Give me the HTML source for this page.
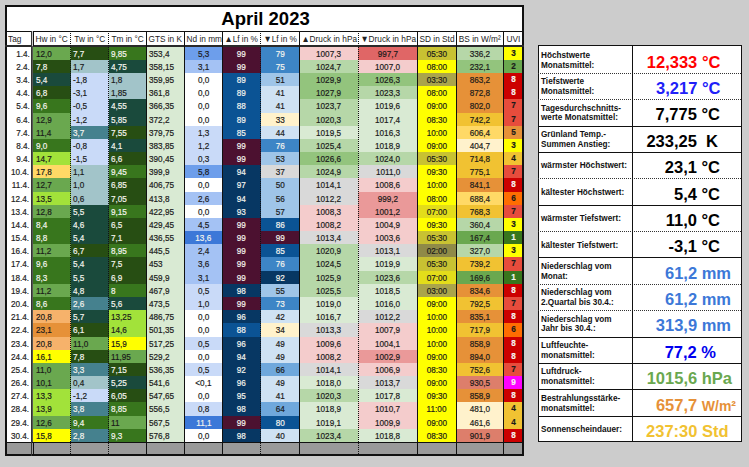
<!DOCTYPE html><html><head><meta charset="utf-8"><style>
*{margin:0;padding:0;box-sizing:border-box}
html,body{width:749px;height:467px;overflow:hidden;background:#cccccc;font-family:"Liberation Sans",sans-serif}
.c{-webkit-text-stroke:0.2px currentColor;position:absolute;font-size:9.5px;line-height:14.2px;white-space:nowrap;overflow:hidden}
.c span,.h span{display:inline-block;transform:scaleX(0.86)}
.h span{transform:scaleX(0.92)}
.L span{transform-origin:0 50%}.R span{transform-origin:100% 50%}
.l{position:absolute;background:#111}
.h{position:absolute;font-size:9px;line-height:17.3px;white-space:nowrap;background:#fff;color:#222;overflow:hidden}
.p{position:absolute;white-space:nowrap;font-weight:bold}
</style></head><body>

<div style="position:absolute;left:5px;top:5px;width:519px;height:451px;background:#fff"></div>
<div class="p" style="left:6px;top:5.4px;width:519px;height:26px;text-align:center;font-size:18.5px;line-height:28px;color:#000">April 2023</div>
<div class="h L" style="left:5px;top:31px;width:27px;height:14px;text-align:left;padding-left:3px;"><span>Tag</span></div>
<div class="h" style="left:32px;top:31px;width:38.5px;height:14px;text-align:center;"><span>Hw in °C</span></div>
<div class="h" style="left:70.5px;top:31px;width:38.099999999999994px;height:14px;text-align:center;"><span>Tw in °C</span></div>
<div class="h" style="left:108.6px;top:31px;width:38.099999999999994px;height:14px;text-align:center;"><span>Tm in °C</span></div>
<div class="h" style="left:146.7px;top:31px;width:37.900000000000006px;height:14px;text-align:center;"><span>GTS in K</span></div>
<div class="h" style="left:184.6px;top:31px;width:38.0px;height:14px;text-align:center;"><span>Nd in mm</span></div>
<div class="h" style="left:222.6px;top:31px;width:38.099999999999994px;height:14px;text-align:center;"><span>▲Lf in %</span></div>
<div class="h" style="left:260.7px;top:31px;width:38.30000000000001px;height:14px;text-align:center;"><span>▼Lf in %</span></div>
<div class="h" style="left:299px;top:31px;width:59.19999999999999px;height:14px;text-align:center;"><span>▲Druck in hPa</span></div>
<div class="h" style="left:358.2px;top:31px;width:59.10000000000002px;height:14px;text-align:center;"><span>▼Druck in hPa</span></div>
<div class="h" style="left:417.3px;top:31px;width:39.19999999999999px;height:14px;text-align:center;"><span>SD in Std</span></div>
<div class="h" style="left:456.5px;top:31px;width:47.19999999999999px;height:14px;text-align:center;"><span>BS in W/m²</span></div>
<div class="h" style="left:503.7px;top:31px;width:19.80000000000001px;height:14px;text-align:center;"><span>UVI</span></div>
<div class="c R" style="left:5px;top:46.60px;width:27.00px;height:13.48px;background:#ffffff;color:#222;text-align:right;padding-right:2.5px;"><span>1.4.</span></div>
<div class="c L" style="left:32px;top:46.60px;width:38.50px;height:13.48px;background:#6aa84f;color:#1a1a1a;text-align:left;padding-left:3.5px;"><span>12,0</span></div>
<div class="c L" style="left:70.5px;top:46.60px;width:38.10px;height:13.48px;background:#274e13;color:#f4f4ee;text-align:left;padding-left:2px;"><span>7,7</span></div>
<div class="c L" style="left:108.6px;top:46.60px;width:38.10px;height:13.48px;background:#38761d;color:#f4f4ee;text-align:left;padding-left:2px;"><span>9,85</span></div>
<div class="c L" style="left:146.7px;top:46.60px;width:37.90px;height:13.48px;background:#d9ead3;color:#1a1a1a;text-align:left;padding-left:2px;"><span>353,4</span></div>
<div class="c" style="left:184.6px;top:46.60px;width:38.00px;height:13.48px;background:#6d9eeb;color:#1a1a1a;text-align:center;"><span>5,3</span></div>
<div class="c" style="left:222.6px;top:46.60px;width:38.10px;height:13.48px;background:#4c1130;color:#f4f4ee;text-align:center;"><span>99</span></div>
<div class="c" style="left:260.7px;top:46.60px;width:38.30px;height:13.48px;background:#3d85c6;color:#f4f4ee;text-align:center;"><span>79</span></div>
<div class="c" style="left:299px;top:46.60px;width:59.20px;height:13.48px;background:#f4cccc;color:#1a1a1a;text-align:center;"><span>1007,3</span></div>
<div class="c" style="left:358.2px;top:46.60px;width:59.10px;height:13.48px;background:#e06666;color:#1a1a1a;text-align:center;"><span>997,7</span></div>
<div class="c" style="left:417.3px;top:46.60px;width:39.20px;height:13.48px;background:#c8c232;color:#1a1a1a;text-align:center;"><span>05:30</span></div>
<div class="c" style="left:456.5px;top:46.60px;width:47.20px;height:13.48px;background:#b6d7a8;color:#1a1a1a;text-align:center;"><span>336,2</span></div>
<div class="c" style="left:503.7px;top:46.60px;width:19.80px;height:13.48px;background:#ffff00;color:#1a1a1a;text-align:center;font-weight:bold;line-height:12.2px;"><span>3</span></div>
<div class="c R" style="left:5px;top:59.78px;width:27.00px;height:13.48px;background:#ffffff;color:#222;text-align:right;padding-right:2.5px;"><span>2.4.</span></div>
<div class="c L" style="left:32px;top:59.78px;width:38.50px;height:13.48px;background:#274e13;color:#f4f4ee;text-align:left;padding-left:3.5px;"><span>7,8</span></div>
<div class="c L" style="left:70.5px;top:59.78px;width:38.10px;height:13.48px;background:#a2c4c9;color:#1a1a1a;text-align:left;padding-left:2px;"><span>1,7</span></div>
<div class="c L" style="left:108.6px;top:59.78px;width:38.10px;height:13.48px;background:#1a4a3c;color:#f4f4ee;text-align:left;padding-left:2px;"><span>4,75</span></div>
<div class="c L" style="left:146.7px;top:59.78px;width:37.90px;height:13.48px;background:#d9ead3;color:#1a1a1a;text-align:left;padding-left:2px;"><span>358,15</span></div>
<div class="c" style="left:184.6px;top:59.78px;width:38.00px;height:13.48px;background:#a4c2f4;color:#1a1a1a;text-align:center;"><span>3,1</span></div>
<div class="c" style="left:222.6px;top:59.78px;width:38.10px;height:13.48px;background:#4c1130;color:#f4f4ee;text-align:center;"><span>99</span></div>
<div class="c" style="left:260.7px;top:59.78px;width:38.30px;height:13.48px;background:#3d85c6;color:#f4f4ee;text-align:center;"><span>75</span></div>
<div class="c" style="left:299px;top:59.78px;width:59.20px;height:13.48px;background:#b6d7a8;color:#1a1a1a;text-align:center;"><span>1024,7</span></div>
<div class="c" style="left:358.2px;top:59.78px;width:59.10px;height:13.48px;background:#f4cccc;color:#1a1a1a;text-align:center;"><span>1007,0</span></div>
<div class="c" style="left:417.3px;top:59.78px;width:39.20px;height:13.48px;background:#ffff00;color:#1a1a1a;text-align:center;"><span>08:00</span></div>
<div class="c" style="left:456.5px;top:59.78px;width:47.20px;height:13.48px;background:#93c47d;color:#1a1a1a;text-align:center;"><span>232,1</span></div>
<div class="c" style="left:503.7px;top:59.78px;width:19.80px;height:13.48px;background:#6aa84f;color:#1a1a1a;text-align:center;font-weight:bold;line-height:12.2px;"><span>2</span></div>
<div class="c R" style="left:5px;top:72.96px;width:27.00px;height:13.48px;background:#ffffff;color:#222;text-align:right;padding-right:2.5px;"><span>3.4.</span></div>
<div class="c L" style="left:32px;top:72.96px;width:38.50px;height:13.48px;background:#1a4a3c;color:#f4f4ee;text-align:left;padding-left:3.5px;"><span>5,4</span></div>
<div class="c L" style="left:70.5px;top:72.96px;width:38.10px;height:13.48px;background:#c9daf8;color:#1a1a1a;text-align:left;padding-left:2px;"><span>-1,8</span></div>
<div class="c L" style="left:108.6px;top:72.96px;width:38.10px;height:13.48px;background:#a2c4c9;color:#1a1a1a;text-align:left;padding-left:2px;"><span>1,8</span></div>
<div class="c L" style="left:146.7px;top:72.96px;width:37.90px;height:13.48px;background:#d9ead3;color:#1a1a1a;text-align:left;padding-left:2px;"><span>359,95</span></div>
<div class="c" style="left:184.6px;top:72.96px;width:38.00px;height:13.48px;background:#ffffff;color:#1a1a1a;text-align:center;"><span>0,0</span></div>
<div class="c" style="left:222.6px;top:72.96px;width:38.10px;height:13.48px;background:#0b5394;color:#f4f4ee;text-align:center;"><span>89</span></div>
<div class="c" style="left:260.7px;top:72.96px;width:38.30px;height:13.48px;background:#9fc5e8;color:#1a1a1a;text-align:center;"><span>51</span></div>
<div class="c" style="left:299px;top:72.96px;width:59.20px;height:13.48px;background:#93c47d;color:#1a1a1a;text-align:center;"><span>1029,9</span></div>
<div class="c" style="left:358.2px;top:72.96px;width:59.10px;height:13.48px;background:#93c47d;color:#1a1a1a;text-align:center;"><span>1026,3</span></div>
<div class="c" style="left:417.3px;top:72.96px;width:39.20px;height:13.48px;background:#aaa44b;color:#1a1a1a;text-align:center;"><span>03:30</span></div>
<div class="c" style="left:456.5px;top:72.96px;width:47.20px;height:13.48px;background:#e69138;color:#1a1a1a;text-align:center;"><span>863,2</span></div>
<div class="c" style="left:503.7px;top:72.96px;width:19.80px;height:13.48px;background:#cc0000;color:#f4f4ee;text-align:center;font-weight:bold;line-height:12.2px;"><span>8</span></div>
<div class="c R" style="left:5px;top:86.14px;width:27.00px;height:13.48px;background:#ffffff;color:#222;text-align:right;padding-right:2.5px;"><span>4.4.</span></div>
<div class="c L" style="left:32px;top:86.14px;width:38.50px;height:13.48px;background:#274e13;color:#f4f4ee;text-align:left;padding-left:3.5px;"><span>6,8</span></div>
<div class="c L" style="left:70.5px;top:86.14px;width:38.10px;height:13.48px;background:#c9daf8;color:#1a1a1a;text-align:left;padding-left:2px;"><span>-3,1</span></div>
<div class="c L" style="left:108.6px;top:86.14px;width:38.10px;height:13.48px;background:#a2c4c9;color:#1a1a1a;text-align:left;padding-left:2px;"><span>1,85</span></div>
<div class="c L" style="left:146.7px;top:86.14px;width:37.90px;height:13.48px;background:#d9ead3;color:#1a1a1a;text-align:left;padding-left:2px;"><span>361,8</span></div>
<div class="c" style="left:184.6px;top:86.14px;width:38.00px;height:13.48px;background:#ffffff;color:#1a1a1a;text-align:center;"><span>0,0</span></div>
<div class="c" style="left:222.6px;top:86.14px;width:38.10px;height:13.48px;background:#0b5394;color:#f4f4ee;text-align:center;"><span>89</span></div>
<div class="c" style="left:260.7px;top:86.14px;width:38.30px;height:13.48px;background:#cfe2f3;color:#1a1a1a;text-align:center;"><span>41</span></div>
<div class="c" style="left:299px;top:86.14px;width:59.20px;height:13.48px;background:#93c47d;color:#1a1a1a;text-align:center;"><span>1027,9</span></div>
<div class="c" style="left:358.2px;top:86.14px;width:59.10px;height:13.48px;background:#b6d7a8;color:#1a1a1a;text-align:center;"><span>1023,3</span></div>
<div class="c" style="left:417.3px;top:86.14px;width:39.20px;height:13.48px;background:#ffff00;color:#1a1a1a;text-align:center;"><span>08:00</span></div>
<div class="c" style="left:456.5px;top:86.14px;width:47.20px;height:13.48px;background:#e69138;color:#1a1a1a;text-align:center;"><span>872,8</span></div>
<div class="c" style="left:503.7px;top:86.14px;width:19.80px;height:13.48px;background:#cc0000;color:#f4f4ee;text-align:center;font-weight:bold;line-height:12.2px;"><span>8</span></div>
<div class="c R" style="left:5px;top:99.32px;width:27.00px;height:13.48px;background:#ffffff;color:#222;text-align:right;padding-right:2.5px;"><span>5.4.</span></div>
<div class="c L" style="left:32px;top:99.32px;width:38.50px;height:13.48px;background:#38761d;color:#f4f4ee;text-align:left;padding-left:3.5px;"><span>9,6</span></div>
<div class="c L" style="left:70.5px;top:99.32px;width:38.10px;height:13.48px;background:#c9daf8;color:#1a1a1a;text-align:left;padding-left:2px;"><span>-0,5</span></div>
<div class="c L" style="left:108.6px;top:99.32px;width:38.10px;height:13.48px;background:#1a4a3c;color:#f4f4ee;text-align:left;padding-left:2px;"><span>4,55</span></div>
<div class="c L" style="left:146.7px;top:99.32px;width:37.90px;height:13.48px;background:#d9ead3;color:#1a1a1a;text-align:left;padding-left:2px;"><span>366,35</span></div>
<div class="c" style="left:184.6px;top:99.32px;width:38.00px;height:13.48px;background:#ffffff;color:#1a1a1a;text-align:center;"><span>0,0</span></div>
<div class="c" style="left:222.6px;top:99.32px;width:38.10px;height:13.48px;background:#0b5394;color:#f4f4ee;text-align:center;"><span>88</span></div>
<div class="c" style="left:260.7px;top:99.32px;width:38.30px;height:13.48px;background:#cfe2f3;color:#1a1a1a;text-align:center;"><span>41</span></div>
<div class="c" style="left:299px;top:99.32px;width:59.20px;height:13.48px;background:#b6d7a8;color:#1a1a1a;text-align:center;"><span>1023,7</span></div>
<div class="c" style="left:358.2px;top:99.32px;width:59.10px;height:13.48px;background:#d9ead3;color:#1a1a1a;text-align:center;"><span>1019,6</span></div>
<div class="c" style="left:417.3px;top:99.32px;width:39.20px;height:13.48px;background:#ffff00;color:#1a1a1a;text-align:center;"><span>09:00</span></div>
<div class="c" style="left:456.5px;top:99.32px;width:47.20px;height:13.48px;background:#e69138;color:#1a1a1a;text-align:center;"><span>802,0</span></div>
<div class="c" style="left:503.7px;top:99.32px;width:19.80px;height:13.48px;background:#e74c3c;color:#1a1a1a;text-align:center;font-weight:bold;line-height:12.2px;"><span>7</span></div>
<div class="c R" style="left:5px;top:112.50px;width:27.00px;height:13.48px;background:#ffffff;color:#222;text-align:right;padding-right:2.5px;"><span>6.4.</span></div>
<div class="c L" style="left:32px;top:112.50px;width:38.50px;height:13.48px;background:#6aa84f;color:#1a1a1a;text-align:left;padding-left:3.5px;"><span>12,9</span></div>
<div class="c L" style="left:70.5px;top:112.50px;width:38.10px;height:13.48px;background:#c9daf8;color:#1a1a1a;text-align:left;padding-left:2px;"><span>-1,2</span></div>
<div class="c L" style="left:108.6px;top:112.50px;width:38.10px;height:13.48px;background:#1a4a3c;color:#f4f4ee;text-align:left;padding-left:2px;"><span>5,85</span></div>
<div class="c L" style="left:146.7px;top:112.50px;width:37.90px;height:13.48px;background:#d9ead3;color:#1a1a1a;text-align:left;padding-left:2px;"><span>372,2</span></div>
<div class="c" style="left:184.6px;top:112.50px;width:38.00px;height:13.48px;background:#ffffff;color:#1a1a1a;text-align:center;"><span>0,0</span></div>
<div class="c" style="left:222.6px;top:112.50px;width:38.10px;height:13.48px;background:#0b5394;color:#f4f4ee;text-align:center;"><span>89</span></div>
<div class="c" style="left:260.7px;top:112.50px;width:38.30px;height:13.48px;background:#fff2cc;color:#1a1a1a;text-align:center;"><span>33</span></div>
<div class="c" style="left:299px;top:112.50px;width:59.20px;height:13.48px;background:#b6d7a8;color:#1a1a1a;text-align:center;"><span>1020,3</span></div>
<div class="c" style="left:358.2px;top:112.50px;width:59.10px;height:13.48px;background:#d9ead3;color:#1a1a1a;text-align:center;"><span>1017,4</span></div>
<div class="c" style="left:417.3px;top:112.50px;width:39.20px;height:13.48px;background:#ffff00;color:#1a1a1a;text-align:center;"><span>08:30</span></div>
<div class="c" style="left:456.5px;top:112.50px;width:47.20px;height:13.48px;background:#f1c232;color:#1a1a1a;text-align:center;"><span>742,2</span></div>
<div class="c" style="left:503.7px;top:112.50px;width:19.80px;height:13.48px;background:#e74c3c;color:#1a1a1a;text-align:center;font-weight:bold;line-height:12.2px;"><span>7</span></div>
<div class="c R" style="left:5px;top:125.68px;width:27.00px;height:13.48px;background:#ffffff;color:#222;text-align:right;padding-right:2.5px;"><span>7.4.</span></div>
<div class="c L" style="left:32px;top:125.68px;width:38.50px;height:13.48px;background:#6aa84f;color:#1a1a1a;text-align:left;padding-left:3.5px;"><span>11,4</span></div>
<div class="c L" style="left:70.5px;top:125.68px;width:38.10px;height:13.48px;background:#45818e;color:#f4f4ee;text-align:left;padding-left:2px;"><span>3,7</span></div>
<div class="c L" style="left:108.6px;top:125.68px;width:38.10px;height:13.48px;background:#274e13;color:#f4f4ee;text-align:left;padding-left:2px;"><span>7,55</span></div>
<div class="c L" style="left:146.7px;top:125.68px;width:37.90px;height:13.48px;background:#d9ead3;color:#1a1a1a;text-align:left;padding-left:2px;"><span>379,75</span></div>
<div class="c" style="left:184.6px;top:125.68px;width:38.00px;height:13.48px;background:#c9daf8;color:#1a1a1a;text-align:center;"><span>1,3</span></div>
<div class="c" style="left:222.6px;top:125.68px;width:38.10px;height:13.48px;background:#0b5394;color:#f4f4ee;text-align:center;"><span>85</span></div>
<div class="c" style="left:260.7px;top:125.68px;width:38.30px;height:13.48px;background:#cfe2f3;color:#1a1a1a;text-align:center;"><span>44</span></div>
<div class="c" style="left:299px;top:125.68px;width:59.20px;height:13.48px;background:#d9ead3;color:#1a1a1a;text-align:center;"><span>1019,5</span></div>
<div class="c" style="left:358.2px;top:125.68px;width:59.10px;height:13.48px;background:#d9ead3;color:#1a1a1a;text-align:center;"><span>1016,3</span></div>
<div class="c" style="left:417.3px;top:125.68px;width:39.20px;height:13.48px;background:#ffff00;color:#1a1a1a;text-align:center;"><span>10:00</span></div>
<div class="c" style="left:456.5px;top:125.68px;width:47.20px;height:13.48px;background:#ffd966;color:#1a1a1a;text-align:center;"><span>606,4</span></div>
<div class="c" style="left:503.7px;top:125.68px;width:19.80px;height:13.48px;background:#e69138;color:#1a1a1a;text-align:center;font-weight:bold;line-height:12.2px;"><span>5</span></div>
<div class="c R" style="left:5px;top:138.86px;width:27.00px;height:13.48px;background:#ffffff;color:#222;text-align:right;padding-right:2.5px;"><span>8.4.</span></div>
<div class="c L" style="left:32px;top:138.86px;width:38.50px;height:13.48px;background:#38761d;color:#f4f4ee;text-align:left;padding-left:3.5px;"><span>9,0</span></div>
<div class="c L" style="left:70.5px;top:138.86px;width:38.10px;height:13.48px;background:#c9daf8;color:#1a1a1a;text-align:left;padding-left:2px;"><span>-0,8</span></div>
<div class="c L" style="left:108.6px;top:138.86px;width:38.10px;height:13.48px;background:#1a4a3c;color:#f4f4ee;text-align:left;padding-left:2px;"><span>4,1</span></div>
<div class="c L" style="left:146.7px;top:138.86px;width:37.90px;height:13.48px;background:#d9ead3;color:#1a1a1a;text-align:left;padding-left:2px;"><span>383,85</span></div>
<div class="c" style="left:184.6px;top:138.86px;width:38.00px;height:13.48px;background:#c9daf8;color:#1a1a1a;text-align:center;"><span>1,2</span></div>
<div class="c" style="left:222.6px;top:138.86px;width:38.10px;height:13.48px;background:#4c1130;color:#f4f4ee;text-align:center;"><span>99</span></div>
<div class="c" style="left:260.7px;top:138.86px;width:38.30px;height:13.48px;background:#3d85c6;color:#f4f4ee;text-align:center;"><span>76</span></div>
<div class="c" style="left:299px;top:138.86px;width:59.20px;height:13.48px;background:#b6d7a8;color:#1a1a1a;text-align:center;"><span>1025,4</span></div>
<div class="c" style="left:358.2px;top:138.86px;width:59.10px;height:13.48px;background:#d9ead3;color:#1a1a1a;text-align:center;"><span>1018,9</span></div>
<div class="c" style="left:417.3px;top:138.86px;width:39.20px;height:13.48px;background:#ffff00;color:#1a1a1a;text-align:center;"><span>09:00</span></div>
<div class="c" style="left:456.5px;top:138.86px;width:47.20px;height:13.48px;background:#fff2cc;color:#1a1a1a;text-align:center;"><span>404,7</span></div>
<div class="c" style="left:503.7px;top:138.86px;width:19.80px;height:13.48px;background:#ffff00;color:#1a1a1a;text-align:center;font-weight:bold;line-height:12.2px;"><span>3</span></div>
<div class="c R" style="left:5px;top:152.04px;width:27.00px;height:13.48px;background:#ffffff;color:#222;text-align:right;padding-right:2.5px;"><span>9.4.</span></div>
<div class="c L" style="left:32px;top:152.04px;width:38.50px;height:13.48px;background:#a2e23a;color:#1a1a1a;text-align:left;padding-left:3.5px;"><span>14,7</span></div>
<div class="c L" style="left:70.5px;top:152.04px;width:38.10px;height:13.48px;background:#c9daf8;color:#1a1a1a;text-align:left;padding-left:2px;"><span>-1,5</span></div>
<div class="c L" style="left:108.6px;top:152.04px;width:38.10px;height:13.48px;background:#274e13;color:#f4f4ee;text-align:left;padding-left:2px;"><span>6,6</span></div>
<div class="c L" style="left:146.7px;top:152.04px;width:37.90px;height:13.48px;background:#d9ead3;color:#1a1a1a;text-align:left;padding-left:2px;"><span>390,45</span></div>
<div class="c" style="left:184.6px;top:152.04px;width:38.00px;height:13.48px;background:#c9daf8;color:#1a1a1a;text-align:center;"><span>0,3</span></div>
<div class="c" style="left:222.6px;top:152.04px;width:38.10px;height:13.48px;background:#4c1130;color:#f4f4ee;text-align:center;"><span>99</span></div>
<div class="c" style="left:260.7px;top:152.04px;width:38.30px;height:13.48px;background:#9fc5e8;color:#1a1a1a;text-align:center;"><span>53</span></div>
<div class="c" style="left:299px;top:152.04px;width:59.20px;height:13.48px;background:#93c47d;color:#1a1a1a;text-align:center;"><span>1026,6</span></div>
<div class="c" style="left:358.2px;top:152.04px;width:59.10px;height:13.48px;background:#b6d7a8;color:#1a1a1a;text-align:center;"><span>1024,0</span></div>
<div class="c" style="left:417.3px;top:152.04px;width:39.20px;height:13.48px;background:#c8c232;color:#1a1a1a;text-align:center;"><span>05:30</span></div>
<div class="c" style="left:456.5px;top:152.04px;width:47.20px;height:13.48px;background:#f1c232;color:#1a1a1a;text-align:center;"><span>714,8</span></div>
<div class="c" style="left:503.7px;top:152.04px;width:19.80px;height:13.48px;background:#f1c232;color:#1a1a1a;text-align:center;font-weight:bold;line-height:12.2px;"><span>4</span></div>
<div class="c R" style="left:5px;top:165.22px;width:27.00px;height:13.48px;background:#ffffff;color:#222;text-align:right;padding-right:2.5px;"><span>10.4.</span></div>
<div class="c L" style="left:32px;top:165.22px;width:38.50px;height:13.48px;background:#ffd966;color:#1a1a1a;text-align:left;padding-left:3.5px;"><span>17,8</span></div>
<div class="c L" style="left:70.5px;top:165.22px;width:38.10px;height:13.48px;background:#a2c4c9;color:#1a1a1a;text-align:left;padding-left:2px;"><span>1,1</span></div>
<div class="c L" style="left:108.6px;top:165.22px;width:38.10px;height:13.48px;background:#38761d;color:#f4f4ee;text-align:left;padding-left:2px;"><span>9,45</span></div>
<div class="c L" style="left:146.7px;top:165.22px;width:37.90px;height:13.48px;background:#d9ead3;color:#1a1a1a;text-align:left;padding-left:2px;"><span>399,9</span></div>
<div class="c" style="left:184.6px;top:165.22px;width:38.00px;height:13.48px;background:#6d9eeb;color:#1a1a1a;text-align:center;"><span>5,8</span></div>
<div class="c" style="left:222.6px;top:165.22px;width:38.10px;height:13.48px;background:#073763;color:#f4f4ee;text-align:center;"><span>94</span></div>
<div class="c" style="left:260.7px;top:165.22px;width:38.30px;height:13.48px;background:#d9d9d9;color:#1a1a1a;text-align:center;"><span>37</span></div>
<div class="c" style="left:299px;top:165.22px;width:59.20px;height:13.48px;background:#b6d7a8;color:#1a1a1a;text-align:center;"><span>1024,9</span></div>
<div class="c" style="left:358.2px;top:165.22px;width:59.10px;height:13.48px;background:#d9d9d9;color:#1a1a1a;text-align:center;"><span>1011,0</span></div>
<div class="c" style="left:417.3px;top:165.22px;width:39.20px;height:13.48px;background:#ffff00;color:#1a1a1a;text-align:center;"><span>09:30</span></div>
<div class="c" style="left:456.5px;top:165.22px;width:47.20px;height:13.48px;background:#f1c232;color:#1a1a1a;text-align:center;"><span>775,1</span></div>
<div class="c" style="left:503.7px;top:165.22px;width:19.80px;height:13.48px;background:#e74c3c;color:#1a1a1a;text-align:center;font-weight:bold;line-height:12.2px;"><span>7</span></div>
<div class="c R" style="left:5px;top:178.40px;width:27.00px;height:13.48px;background:#ffffff;color:#222;text-align:right;padding-right:2.5px;"><span>11.4.</span></div>
<div class="c L" style="left:32px;top:178.40px;width:38.50px;height:13.48px;background:#6aa84f;color:#1a1a1a;text-align:left;padding-left:3.5px;"><span>12,7</span></div>
<div class="c L" style="left:70.5px;top:178.40px;width:38.10px;height:13.48px;background:#a2c4c9;color:#1a1a1a;text-align:left;padding-left:2px;"><span>1,0</span></div>
<div class="c L" style="left:108.6px;top:178.40px;width:38.10px;height:13.48px;background:#274e13;color:#f4f4ee;text-align:left;padding-left:2px;"><span>6,85</span></div>
<div class="c L" style="left:146.7px;top:178.40px;width:37.90px;height:13.48px;background:#d9ead3;color:#1a1a1a;text-align:left;padding-left:2px;"><span>406,75</span></div>
<div class="c" style="left:184.6px;top:178.40px;width:38.00px;height:13.48px;background:#ffffff;color:#1a1a1a;text-align:center;"><span>0,0</span></div>
<div class="c" style="left:222.6px;top:178.40px;width:38.10px;height:13.48px;background:#073763;color:#f4f4ee;text-align:center;"><span>97</span></div>
<div class="c" style="left:260.7px;top:178.40px;width:38.30px;height:13.48px;background:#9fc5e8;color:#1a1a1a;text-align:center;"><span>50</span></div>
<div class="c" style="left:299px;top:178.40px;width:59.20px;height:13.48px;background:#d9d9d9;color:#1a1a1a;text-align:center;"><span>1014,1</span></div>
<div class="c" style="left:358.2px;top:178.40px;width:59.10px;height:13.48px;background:#f4cccc;color:#1a1a1a;text-align:center;"><span>1008,6</span></div>
<div class="c" style="left:417.3px;top:178.40px;width:39.20px;height:13.48px;background:#ffff00;color:#1a1a1a;text-align:center;"><span>10:00</span></div>
<div class="c" style="left:456.5px;top:178.40px;width:47.20px;height:13.48px;background:#e69138;color:#1a1a1a;text-align:center;"><span>841,1</span></div>
<div class="c" style="left:503.7px;top:178.40px;width:19.80px;height:13.48px;background:#cc0000;color:#f4f4ee;text-align:center;font-weight:bold;line-height:12.2px;"><span>8</span></div>
<div class="c R" style="left:5px;top:191.58px;width:27.00px;height:13.48px;background:#ffffff;color:#222;text-align:right;padding-right:2.5px;"><span>12.4.</span></div>
<div class="c L" style="left:32px;top:191.58px;width:38.50px;height:13.48px;background:#a2e23a;color:#1a1a1a;text-align:left;padding-left:3.5px;"><span>13,5</span></div>
<div class="c L" style="left:70.5px;top:191.58px;width:38.10px;height:13.48px;background:#a2c4c9;color:#1a1a1a;text-align:left;padding-left:2px;"><span>0,6</span></div>
<div class="c L" style="left:108.6px;top:191.58px;width:38.10px;height:13.48px;background:#274e13;color:#f4f4ee;text-align:left;padding-left:2px;"><span>7,05</span></div>
<div class="c L" style="left:146.7px;top:191.58px;width:37.90px;height:13.48px;background:#d9ead3;color:#1a1a1a;text-align:left;padding-left:2px;"><span>413,8</span></div>
<div class="c" style="left:184.6px;top:191.58px;width:38.00px;height:13.48px;background:#a4c2f4;color:#1a1a1a;text-align:center;"><span>2,6</span></div>
<div class="c" style="left:222.6px;top:191.58px;width:38.10px;height:13.48px;background:#073763;color:#f4f4ee;text-align:center;"><span>94</span></div>
<div class="c" style="left:260.7px;top:191.58px;width:38.30px;height:13.48px;background:#9fc5e8;color:#1a1a1a;text-align:center;"><span>56</span></div>
<div class="c" style="left:299px;top:191.58px;width:59.20px;height:13.48px;background:#d9d9d9;color:#1a1a1a;text-align:center;"><span>1012,2</span></div>
<div class="c" style="left:358.2px;top:191.58px;width:59.10px;height:13.48px;background:#ea9999;color:#1a1a1a;text-align:center;"><span>999,2</span></div>
<div class="c" style="left:417.3px;top:191.58px;width:39.20px;height:13.48px;background:#ffff00;color:#1a1a1a;text-align:center;"><span>08:00</span></div>
<div class="c" style="left:456.5px;top:191.58px;width:47.20px;height:13.48px;background:#ffd966;color:#1a1a1a;text-align:center;"><span>688,4</span></div>
<div class="c" style="left:503.7px;top:191.58px;width:19.80px;height:13.48px;background:#ff6d01;color:#1a1a1a;text-align:center;font-weight:bold;line-height:12.2px;"><span>6</span></div>
<div class="c R" style="left:5px;top:204.76px;width:27.00px;height:13.48px;background:#ffffff;color:#222;text-align:right;padding-right:2.5px;"><span>13.4.</span></div>
<div class="c L" style="left:32px;top:204.76px;width:38.50px;height:13.48px;background:#6aa84f;color:#1a1a1a;text-align:left;padding-left:3.5px;"><span>12,8</span></div>
<div class="c L" style="left:70.5px;top:204.76px;width:38.10px;height:13.48px;background:#1a4a3c;color:#f4f4ee;text-align:left;padding-left:2px;"><span>5,5</span></div>
<div class="c L" style="left:108.6px;top:204.76px;width:38.10px;height:13.48px;background:#38761d;color:#f4f4ee;text-align:left;padding-left:2px;"><span>9,15</span></div>
<div class="c L" style="left:146.7px;top:204.76px;width:37.90px;height:13.48px;background:#d9ead3;color:#1a1a1a;text-align:left;padding-left:2px;"><span>422,95</span></div>
<div class="c" style="left:184.6px;top:204.76px;width:38.00px;height:13.48px;background:#ffffff;color:#1a1a1a;text-align:center;"><span>0,0</span></div>
<div class="c" style="left:222.6px;top:204.76px;width:38.10px;height:13.48px;background:#073763;color:#f4f4ee;text-align:center;"><span>93</span></div>
<div class="c" style="left:260.7px;top:204.76px;width:38.30px;height:13.48px;background:#9fc5e8;color:#1a1a1a;text-align:center;"><span>57</span></div>
<div class="c" style="left:299px;top:204.76px;width:59.20px;height:13.48px;background:#f4cccc;color:#1a1a1a;text-align:center;"><span>1008,3</span></div>
<div class="c" style="left:358.2px;top:204.76px;width:59.10px;height:13.48px;background:#ea9999;color:#1a1a1a;text-align:center;"><span>1001,2</span></div>
<div class="c" style="left:417.3px;top:204.76px;width:39.20px;height:13.48px;background:#e3dd1a;color:#1a1a1a;text-align:center;"><span>07:00</span></div>
<div class="c" style="left:456.5px;top:204.76px;width:47.20px;height:13.48px;background:#f1c232;color:#1a1a1a;text-align:center;"><span>768,3</span></div>
<div class="c" style="left:503.7px;top:204.76px;width:19.80px;height:13.48px;background:#e74c3c;color:#1a1a1a;text-align:center;font-weight:bold;line-height:12.2px;"><span>7</span></div>
<div class="c R" style="left:5px;top:217.94px;width:27.00px;height:13.48px;background:#ffffff;color:#222;text-align:right;padding-right:2.5px;"><span>14.4.</span></div>
<div class="c L" style="left:32px;top:217.94px;width:38.50px;height:13.48px;background:#38761d;color:#f4f4ee;text-align:left;padding-left:3.5px;"><span>8,4</span></div>
<div class="c L" style="left:70.5px;top:217.94px;width:38.10px;height:13.48px;background:#1a4a3c;color:#f4f4ee;text-align:left;padding-left:2px;"><span>4,6</span></div>
<div class="c L" style="left:108.6px;top:217.94px;width:38.10px;height:13.48px;background:#274e13;color:#f4f4ee;text-align:left;padding-left:2px;"><span>6,5</span></div>
<div class="c L" style="left:146.7px;top:217.94px;width:37.90px;height:13.48px;background:#d9ead3;color:#1a1a1a;text-align:left;padding-left:2px;"><span>429,45</span></div>
<div class="c" style="left:184.6px;top:217.94px;width:38.00px;height:13.48px;background:#a4c2f4;color:#1a1a1a;text-align:center;"><span>4,5</span></div>
<div class="c" style="left:222.6px;top:217.94px;width:38.10px;height:13.48px;background:#4c1130;color:#f4f4ee;text-align:center;"><span>99</span></div>
<div class="c" style="left:260.7px;top:217.94px;width:38.30px;height:13.48px;background:#0b5394;color:#f4f4ee;text-align:center;"><span>86</span></div>
<div class="c" style="left:299px;top:217.94px;width:59.20px;height:13.48px;background:#f4cccc;color:#1a1a1a;text-align:center;"><span>1008,2</span></div>
<div class="c" style="left:358.2px;top:217.94px;width:59.10px;height:13.48px;background:#f4cccc;color:#1a1a1a;text-align:center;"><span>1004,9</span></div>
<div class="c" style="left:417.3px;top:217.94px;width:39.20px;height:13.48px;background:#ffff00;color:#1a1a1a;text-align:center;"><span>09:30</span></div>
<div class="c" style="left:456.5px;top:217.94px;width:47.20px;height:13.48px;background:#b6d7a8;color:#1a1a1a;text-align:center;"><span>360,4</span></div>
<div class="c" style="left:503.7px;top:217.94px;width:19.80px;height:13.48px;background:#ffff00;color:#1a1a1a;text-align:center;font-weight:bold;line-height:12.2px;"><span>3</span></div>
<div class="c R" style="left:5px;top:231.12px;width:27.00px;height:13.48px;background:#ffffff;color:#222;text-align:right;padding-right:2.5px;"><span>15.4.</span></div>
<div class="c L" style="left:32px;top:231.12px;width:38.50px;height:13.48px;background:#38761d;color:#f4f4ee;text-align:left;padding-left:3.5px;"><span>8,8</span></div>
<div class="c L" style="left:70.5px;top:231.12px;width:38.10px;height:13.48px;background:#1a4a3c;color:#f4f4ee;text-align:left;padding-left:2px;"><span>5,4</span></div>
<div class="c L" style="left:108.6px;top:231.12px;width:38.10px;height:13.48px;background:#274e13;color:#f4f4ee;text-align:left;padding-left:2px;"><span>7,1</span></div>
<div class="c L" style="left:146.7px;top:231.12px;width:37.90px;height:13.48px;background:#d9ead3;color:#1a1a1a;text-align:left;padding-left:2px;"><span>436,55</span></div>
<div class="c" style="left:184.6px;top:231.12px;width:38.00px;height:13.48px;background:#3c78d8;color:#f4f4ee;text-align:center;"><span>13,6</span></div>
<div class="c" style="left:222.6px;top:231.12px;width:38.10px;height:13.48px;background:#4c1130;color:#f4f4ee;text-align:center;"><span>99</span></div>
<div class="c" style="left:260.7px;top:231.12px;width:38.30px;height:13.48px;background:#4c1130;color:#f4f4ee;text-align:center;"><span>99</span></div>
<div class="c" style="left:299px;top:231.12px;width:59.20px;height:13.48px;background:#d9d9d9;color:#1a1a1a;text-align:center;"><span>1013,4</span></div>
<div class="c" style="left:358.2px;top:231.12px;width:59.10px;height:13.48px;background:#f4cccc;color:#1a1a1a;text-align:center;"><span>1003,6</span></div>
<div class="c" style="left:417.3px;top:231.12px;width:39.20px;height:13.48px;background:#c8c232;color:#1a1a1a;text-align:center;"><span>05:30</span></div>
<div class="c" style="left:456.5px;top:231.12px;width:47.20px;height:13.48px;background:#6aa84f;color:#1a1a1a;text-align:center;"><span>167,4</span></div>
<div class="c" style="left:503.7px;top:231.12px;width:19.80px;height:13.48px;background:#38761d;color:#f4f4ee;text-align:center;font-weight:bold;line-height:12.2px;"><span>1</span></div>
<div class="c R" style="left:5px;top:244.30px;width:27.00px;height:13.48px;background:#ffffff;color:#222;text-align:right;padding-right:2.5px;"><span>16.4.</span></div>
<div class="c L" style="left:32px;top:244.30px;width:38.50px;height:13.48px;background:#6aa84f;color:#1a1a1a;text-align:left;padding-left:3.5px;"><span>11,2</span></div>
<div class="c L" style="left:70.5px;top:244.30px;width:38.10px;height:13.48px;background:#274e13;color:#f4f4ee;text-align:left;padding-left:2px;"><span>6,7</span></div>
<div class="c L" style="left:108.6px;top:244.30px;width:38.10px;height:13.48px;background:#38761d;color:#f4f4ee;text-align:left;padding-left:2px;"><span>8,95</span></div>
<div class="c L" style="left:146.7px;top:244.30px;width:37.90px;height:13.48px;background:#d9ead3;color:#1a1a1a;text-align:left;padding-left:2px;"><span>445,5</span></div>
<div class="c" style="left:184.6px;top:244.30px;width:38.00px;height:13.48px;background:#a4c2f4;color:#1a1a1a;text-align:center;"><span>2,4</span></div>
<div class="c" style="left:222.6px;top:244.30px;width:38.10px;height:13.48px;background:#4c1130;color:#f4f4ee;text-align:center;"><span>99</span></div>
<div class="c" style="left:260.7px;top:244.30px;width:38.30px;height:13.48px;background:#0b5394;color:#f4f4ee;text-align:center;"><span>85</span></div>
<div class="c" style="left:299px;top:244.30px;width:59.20px;height:13.48px;background:#b6d7a8;color:#1a1a1a;text-align:center;"><span>1020,9</span></div>
<div class="c" style="left:358.2px;top:244.30px;width:59.10px;height:13.48px;background:#d9d9d9;color:#1a1a1a;text-align:center;"><span>1013,1</span></div>
<div class="c" style="left:417.3px;top:244.30px;width:39.20px;height:13.48px;background:#8f8a48;color:#1a1a1a;text-align:center;"><span>02:00</span></div>
<div class="c" style="left:456.5px;top:244.30px;width:47.20px;height:13.48px;background:#b6d7a8;color:#1a1a1a;text-align:center;"><span>327,0</span></div>
<div class="c" style="left:503.7px;top:244.30px;width:19.80px;height:13.48px;background:#ffff00;color:#1a1a1a;text-align:center;font-weight:bold;line-height:12.2px;"><span>3</span></div>
<div class="c R" style="left:5px;top:257.48px;width:27.00px;height:13.48px;background:#ffffff;color:#222;text-align:right;padding-right:2.5px;"><span>17.4.</span></div>
<div class="c L" style="left:32px;top:257.48px;width:38.50px;height:13.48px;background:#38761d;color:#f4f4ee;text-align:left;padding-left:3.5px;"><span>9,6</span></div>
<div class="c L" style="left:70.5px;top:257.48px;width:38.10px;height:13.48px;background:#1a4a3c;color:#f4f4ee;text-align:left;padding-left:2px;"><span>5,4</span></div>
<div class="c L" style="left:108.6px;top:257.48px;width:38.10px;height:13.48px;background:#274e13;color:#f4f4ee;text-align:left;padding-left:2px;"><span>7,5</span></div>
<div class="c L" style="left:146.7px;top:257.48px;width:37.90px;height:13.48px;background:#d9ead3;color:#1a1a1a;text-align:left;padding-left:2px;"><span>453</span></div>
<div class="c" style="left:184.6px;top:257.48px;width:38.00px;height:13.48px;background:#a4c2f4;color:#1a1a1a;text-align:center;"><span>3,6</span></div>
<div class="c" style="left:222.6px;top:257.48px;width:38.10px;height:13.48px;background:#4c1130;color:#f4f4ee;text-align:center;"><span>99</span></div>
<div class="c" style="left:260.7px;top:257.48px;width:38.30px;height:13.48px;background:#3d85c6;color:#f4f4ee;text-align:center;"><span>76</span></div>
<div class="c" style="left:299px;top:257.48px;width:59.20px;height:13.48px;background:#b6d7a8;color:#1a1a1a;text-align:center;"><span>1024,5</span></div>
<div class="c" style="left:358.2px;top:257.48px;width:59.10px;height:13.48px;background:#d9ead3;color:#1a1a1a;text-align:center;"><span>1019,9</span></div>
<div class="c" style="left:417.3px;top:257.48px;width:39.20px;height:13.48px;background:#c8c232;color:#1a1a1a;text-align:center;"><span>05:30</span></div>
<div class="c" style="left:456.5px;top:257.48px;width:47.20px;height:13.48px;background:#f1c232;color:#1a1a1a;text-align:center;"><span>739,2</span></div>
<div class="c" style="left:503.7px;top:257.48px;width:19.80px;height:13.48px;background:#e74c3c;color:#1a1a1a;text-align:center;font-weight:bold;line-height:12.2px;"><span>7</span></div>
<div class="c R" style="left:5px;top:270.66px;width:27.00px;height:13.48px;background:#ffffff;color:#222;text-align:right;padding-right:2.5px;"><span>18.4.</span></div>
<div class="c L" style="left:32px;top:270.66px;width:38.50px;height:13.48px;background:#38761d;color:#f4f4ee;text-align:left;padding-left:3.5px;"><span>8,3</span></div>
<div class="c L" style="left:70.5px;top:270.66px;width:38.10px;height:13.48px;background:#1a4a3c;color:#f4f4ee;text-align:left;padding-left:2px;"><span>5,5</span></div>
<div class="c L" style="left:108.6px;top:270.66px;width:38.10px;height:13.48px;background:#274e13;color:#f4f4ee;text-align:left;padding-left:2px;"><span>6,9</span></div>
<div class="c L" style="left:146.7px;top:270.66px;width:37.90px;height:13.48px;background:#d9ead3;color:#1a1a1a;text-align:left;padding-left:2px;"><span>459,9</span></div>
<div class="c" style="left:184.6px;top:270.66px;width:38.00px;height:13.48px;background:#a4c2f4;color:#1a1a1a;text-align:center;"><span>3,1</span></div>
<div class="c" style="left:222.6px;top:270.66px;width:38.10px;height:13.48px;background:#4c1130;color:#f4f4ee;text-align:center;"><span>99</span></div>
<div class="c" style="left:260.7px;top:270.66px;width:38.30px;height:13.48px;background:#073763;color:#f4f4ee;text-align:center;"><span>92</span></div>
<div class="c" style="left:299px;top:270.66px;width:59.20px;height:13.48px;background:#b6d7a8;color:#1a1a1a;text-align:center;"><span>1025,9</span></div>
<div class="c" style="left:358.2px;top:270.66px;width:59.10px;height:13.48px;background:#b6d7a8;color:#1a1a1a;text-align:center;"><span>1023,6</span></div>
<div class="c" style="left:417.3px;top:270.66px;width:39.20px;height:13.48px;background:#e3dd1a;color:#1a1a1a;text-align:center;"><span>07:00</span></div>
<div class="c" style="left:456.5px;top:270.66px;width:47.20px;height:13.48px;background:#6aa84f;color:#1a1a1a;text-align:center;"><span>169,6</span></div>
<div class="c" style="left:503.7px;top:270.66px;width:19.80px;height:13.48px;background:#38761d;color:#f4f4ee;text-align:center;font-weight:bold;line-height:12.2px;"><span>1</span></div>
<div class="c R" style="left:5px;top:283.84px;width:27.00px;height:13.48px;background:#ffffff;color:#222;text-align:right;padding-right:2.5px;"><span>19.4.</span></div>
<div class="c L" style="left:32px;top:283.84px;width:38.50px;height:13.48px;background:#6aa84f;color:#1a1a1a;text-align:left;padding-left:3.5px;"><span>11,2</span></div>
<div class="c L" style="left:70.5px;top:283.84px;width:38.10px;height:13.48px;background:#1a4a3c;color:#f4f4ee;text-align:left;padding-left:2px;"><span>4,8</span></div>
<div class="c L" style="left:108.6px;top:283.84px;width:38.10px;height:13.48px;background:#38761d;color:#f4f4ee;text-align:left;padding-left:2px;"><span>8</span></div>
<div class="c L" style="left:146.7px;top:283.84px;width:37.90px;height:13.48px;background:#d9ead3;color:#1a1a1a;text-align:left;padding-left:2px;"><span>467,9</span></div>
<div class="c" style="left:184.6px;top:283.84px;width:38.00px;height:13.48px;background:#c9daf8;color:#1a1a1a;text-align:center;"><span>0,5</span></div>
<div class="c" style="left:222.6px;top:283.84px;width:38.10px;height:13.48px;background:#073763;color:#f4f4ee;text-align:center;"><span>98</span></div>
<div class="c" style="left:260.7px;top:283.84px;width:38.30px;height:13.48px;background:#9fc5e8;color:#1a1a1a;text-align:center;"><span>55</span></div>
<div class="c" style="left:299px;top:283.84px;width:59.20px;height:13.48px;background:#b6d7a8;color:#1a1a1a;text-align:center;"><span>1025,5</span></div>
<div class="c" style="left:358.2px;top:283.84px;width:59.10px;height:13.48px;background:#d9ead3;color:#1a1a1a;text-align:center;"><span>1018,5</span></div>
<div class="c" style="left:417.3px;top:283.84px;width:39.20px;height:13.48px;background:#aaa44b;color:#1a1a1a;text-align:center;"><span>03:00</span></div>
<div class="c" style="left:456.5px;top:283.84px;width:47.20px;height:13.48px;background:#e69138;color:#1a1a1a;text-align:center;"><span>834,6</span></div>
<div class="c" style="left:503.7px;top:283.84px;width:19.80px;height:13.48px;background:#cc0000;color:#f4f4ee;text-align:center;font-weight:bold;line-height:12.2px;"><span>8</span></div>
<div class="c R" style="left:5px;top:297.02px;width:27.00px;height:13.48px;background:#ffffff;color:#222;text-align:right;padding-right:2.5px;"><span>20.4.</span></div>
<div class="c L" style="left:32px;top:297.02px;width:38.50px;height:13.48px;background:#38761d;color:#f4f4ee;text-align:left;padding-left:3.5px;"><span>8,6</span></div>
<div class="c L" style="left:70.5px;top:297.02px;width:38.10px;height:13.48px;background:#45818e;color:#f4f4ee;text-align:left;padding-left:2px;"><span>2,6</span></div>
<div class="c L" style="left:108.6px;top:297.02px;width:38.10px;height:13.48px;background:#1a4a3c;color:#f4f4ee;text-align:left;padding-left:2px;"><span>5,6</span></div>
<div class="c L" style="left:146.7px;top:297.02px;width:37.90px;height:13.48px;background:#d9ead3;color:#1a1a1a;text-align:left;padding-left:2px;"><span>473,5</span></div>
<div class="c" style="left:184.6px;top:297.02px;width:38.00px;height:13.48px;background:#c9daf8;color:#1a1a1a;text-align:center;"><span>1,0</span></div>
<div class="c" style="left:222.6px;top:297.02px;width:38.10px;height:13.48px;background:#4c1130;color:#f4f4ee;text-align:center;"><span>99</span></div>
<div class="c" style="left:260.7px;top:297.02px;width:38.30px;height:13.48px;background:#3d85c6;color:#f4f4ee;text-align:center;"><span>73</span></div>
<div class="c" style="left:299px;top:297.02px;width:59.20px;height:13.48px;background:#d9ead3;color:#1a1a1a;text-align:center;"><span>1019,0</span></div>
<div class="c" style="left:358.2px;top:297.02px;width:59.10px;height:13.48px;background:#d9ead3;color:#1a1a1a;text-align:center;"><span>1016,0</span></div>
<div class="c" style="left:417.3px;top:297.02px;width:39.20px;height:13.48px;background:#ffff00;color:#1a1a1a;text-align:center;"><span>09:00</span></div>
<div class="c" style="left:456.5px;top:297.02px;width:47.20px;height:13.48px;background:#f1c232;color:#1a1a1a;text-align:center;"><span>792,5</span></div>
<div class="c" style="left:503.7px;top:297.02px;width:19.80px;height:13.48px;background:#e74c3c;color:#1a1a1a;text-align:center;font-weight:bold;line-height:12.2px;"><span>7</span></div>
<div class="c R" style="left:5px;top:310.20px;width:27.00px;height:13.48px;background:#ffffff;color:#222;text-align:right;padding-right:2.5px;"><span>21.4.</span></div>
<div class="c L" style="left:32px;top:310.20px;width:38.50px;height:13.48px;background:#f6b26b;color:#1a1a1a;text-align:left;padding-left:3.5px;"><span>20,8</span></div>
<div class="c L" style="left:70.5px;top:310.20px;width:38.10px;height:13.48px;background:#1a4a3c;color:#f4f4ee;text-align:left;padding-left:2px;"><span>5,7</span></div>
<div class="c L" style="left:108.6px;top:310.20px;width:38.10px;height:13.48px;background:#a2e23a;color:#1a1a1a;text-align:left;padding-left:2px;"><span>13,25</span></div>
<div class="c L" style="left:146.7px;top:310.20px;width:37.90px;height:13.48px;background:#d9ead3;color:#1a1a1a;text-align:left;padding-left:2px;"><span>486,75</span></div>
<div class="c" style="left:184.6px;top:310.20px;width:38.00px;height:13.48px;background:#ffffff;color:#1a1a1a;text-align:center;"><span>0,0</span></div>
<div class="c" style="left:222.6px;top:310.20px;width:38.10px;height:13.48px;background:#073763;color:#f4f4ee;text-align:center;"><span>96</span></div>
<div class="c" style="left:260.7px;top:310.20px;width:38.30px;height:13.48px;background:#cfe2f3;color:#1a1a1a;text-align:center;"><span>42</span></div>
<div class="c" style="left:299px;top:310.20px;width:59.20px;height:13.48px;background:#d9ead3;color:#1a1a1a;text-align:center;"><span>1016,7</span></div>
<div class="c" style="left:358.2px;top:310.20px;width:59.10px;height:13.48px;background:#d9d9d9;color:#1a1a1a;text-align:center;"><span>1012,2</span></div>
<div class="c" style="left:417.3px;top:310.20px;width:39.20px;height:13.48px;background:#ffff00;color:#1a1a1a;text-align:center;"><span>10:00</span></div>
<div class="c" style="left:456.5px;top:310.20px;width:47.20px;height:13.48px;background:#e69138;color:#1a1a1a;text-align:center;"><span>835,1</span></div>
<div class="c" style="left:503.7px;top:310.20px;width:19.80px;height:13.48px;background:#cc0000;color:#f4f4ee;text-align:center;font-weight:bold;line-height:12.2px;"><span>8</span></div>
<div class="c R" style="left:5px;top:323.38px;width:27.00px;height:13.48px;background:#ffffff;color:#222;text-align:right;padding-right:2.5px;"><span>22.4.</span></div>
<div class="c L" style="left:32px;top:323.38px;width:38.50px;height:13.48px;background:#e69138;color:#1a1a1a;text-align:left;padding-left:3.5px;"><span>23,1</span></div>
<div class="c L" style="left:70.5px;top:323.38px;width:38.10px;height:13.48px;background:#274e13;color:#f4f4ee;text-align:left;padding-left:2px;"><span>6,1</span></div>
<div class="c L" style="left:108.6px;top:323.38px;width:38.10px;height:13.48px;background:#a2e23a;color:#1a1a1a;text-align:left;padding-left:2px;"><span>14,6</span></div>
<div class="c L" style="left:146.7px;top:323.38px;width:37.90px;height:13.48px;background:#d9ead3;color:#1a1a1a;text-align:left;padding-left:2px;"><span>501,35</span></div>
<div class="c" style="left:184.6px;top:323.38px;width:38.00px;height:13.48px;background:#ffffff;color:#1a1a1a;text-align:center;"><span>0,0</span></div>
<div class="c" style="left:222.6px;top:323.38px;width:38.10px;height:13.48px;background:#0b5394;color:#f4f4ee;text-align:center;"><span>88</span></div>
<div class="c" style="left:260.7px;top:323.38px;width:38.30px;height:13.48px;background:#fff2cc;color:#1a1a1a;text-align:center;"><span>34</span></div>
<div class="c" style="left:299px;top:323.38px;width:59.20px;height:13.48px;background:#d9d9d9;color:#1a1a1a;text-align:center;"><span>1013,3</span></div>
<div class="c" style="left:358.2px;top:323.38px;width:59.10px;height:13.48px;background:#f4cccc;color:#1a1a1a;text-align:center;"><span>1007,9</span></div>
<div class="c" style="left:417.3px;top:323.38px;width:39.20px;height:13.48px;background:#ffff00;color:#1a1a1a;text-align:center;"><span>10:00</span></div>
<div class="c" style="left:456.5px;top:323.38px;width:47.20px;height:13.48px;background:#f1c232;color:#1a1a1a;text-align:center;"><span>717,9</span></div>
<div class="c" style="left:503.7px;top:323.38px;width:19.80px;height:13.48px;background:#ff6d01;color:#1a1a1a;text-align:center;font-weight:bold;line-height:12.2px;"><span>6</span></div>
<div class="c R" style="left:5px;top:336.56px;width:27.00px;height:13.48px;background:#ffffff;color:#222;text-align:right;padding-right:2.5px;"><span>23.4.</span></div>
<div class="c L" style="left:32px;top:336.56px;width:38.50px;height:13.48px;background:#f6b26b;color:#1a1a1a;text-align:left;padding-left:3.5px;"><span>20,8</span></div>
<div class="c L" style="left:70.5px;top:336.56px;width:38.10px;height:13.48px;background:#6aa84f;color:#1a1a1a;text-align:left;padding-left:2px;"><span>11,0</span></div>
<div class="c L" style="left:108.6px;top:336.56px;width:38.10px;height:13.48px;background:#ffff00;color:#1a1a1a;text-align:left;padding-left:2px;"><span>15,9</span></div>
<div class="c L" style="left:146.7px;top:336.56px;width:37.90px;height:13.48px;background:#d9ead3;color:#1a1a1a;text-align:left;padding-left:2px;"><span>517,25</span></div>
<div class="c" style="left:184.6px;top:336.56px;width:38.00px;height:13.48px;background:#c9daf8;color:#1a1a1a;text-align:center;"><span>0,5</span></div>
<div class="c" style="left:222.6px;top:336.56px;width:38.10px;height:13.48px;background:#073763;color:#f4f4ee;text-align:center;"><span>96</span></div>
<div class="c" style="left:260.7px;top:336.56px;width:38.30px;height:13.48px;background:#cfe2f3;color:#1a1a1a;text-align:center;"><span>49</span></div>
<div class="c" style="left:299px;top:336.56px;width:59.20px;height:13.48px;background:#f4cccc;color:#1a1a1a;text-align:center;"><span>1009,6</span></div>
<div class="c" style="left:358.2px;top:336.56px;width:59.10px;height:13.48px;background:#f4cccc;color:#1a1a1a;text-align:center;"><span>1004,1</span></div>
<div class="c" style="left:417.3px;top:336.56px;width:39.20px;height:13.48px;background:#ffff00;color:#1a1a1a;text-align:center;"><span>10:00</span></div>
<div class="c" style="left:456.5px;top:336.56px;width:47.20px;height:13.48px;background:#e69138;color:#1a1a1a;text-align:center;"><span>858,9</span></div>
<div class="c" style="left:503.7px;top:336.56px;width:19.80px;height:13.48px;background:#cc0000;color:#f4f4ee;text-align:center;font-weight:bold;line-height:12.2px;"><span>8</span></div>
<div class="c R" style="left:5px;top:349.74px;width:27.00px;height:13.48px;background:#ffffff;color:#222;text-align:right;padding-right:2.5px;"><span>24.4.</span></div>
<div class="c L" style="left:32px;top:349.74px;width:38.50px;height:13.48px;background:#ffff00;color:#1a1a1a;text-align:left;padding-left:3.5px;"><span>16,1</span></div>
<div class="c L" style="left:70.5px;top:349.74px;width:38.10px;height:13.48px;background:#274e13;color:#f4f4ee;text-align:left;padding-left:2px;"><span>7,8</span></div>
<div class="c L" style="left:108.6px;top:349.74px;width:38.10px;height:13.48px;background:#6aa84f;color:#1a1a1a;text-align:left;padding-left:2px;"><span>11,95</span></div>
<div class="c L" style="left:146.7px;top:349.74px;width:37.90px;height:13.48px;background:#d9ead3;color:#1a1a1a;text-align:left;padding-left:2px;"><span>529,2</span></div>
<div class="c" style="left:184.6px;top:349.74px;width:38.00px;height:13.48px;background:#ffffff;color:#1a1a1a;text-align:center;"><span>0,0</span></div>
<div class="c" style="left:222.6px;top:349.74px;width:38.10px;height:13.48px;background:#073763;color:#f4f4ee;text-align:center;"><span>94</span></div>
<div class="c" style="left:260.7px;top:349.74px;width:38.30px;height:13.48px;background:#cfe2f3;color:#1a1a1a;text-align:center;"><span>49</span></div>
<div class="c" style="left:299px;top:349.74px;width:59.20px;height:13.48px;background:#f4cccc;color:#1a1a1a;text-align:center;"><span>1008,2</span></div>
<div class="c" style="left:358.2px;top:349.74px;width:59.10px;height:13.48px;background:#ea9999;color:#1a1a1a;text-align:center;"><span>1002,9</span></div>
<div class="c" style="left:417.3px;top:349.74px;width:39.20px;height:13.48px;background:#ffff00;color:#1a1a1a;text-align:center;"><span>09:00</span></div>
<div class="c" style="left:456.5px;top:349.74px;width:47.20px;height:13.48px;background:#e69138;color:#1a1a1a;text-align:center;"><span>894,0</span></div>
<div class="c" style="left:503.7px;top:349.74px;width:19.80px;height:13.48px;background:#cc0000;color:#f4f4ee;text-align:center;font-weight:bold;line-height:12.2px;"><span>8</span></div>
<div class="c R" style="left:5px;top:362.92px;width:27.00px;height:13.48px;background:#ffffff;color:#222;text-align:right;padding-right:2.5px;"><span>25.4.</span></div>
<div class="c L" style="left:32px;top:362.92px;width:38.50px;height:13.48px;background:#6aa84f;color:#1a1a1a;text-align:left;padding-left:3.5px;"><span>11,0</span></div>
<div class="c L" style="left:70.5px;top:362.92px;width:38.10px;height:13.48px;background:#45818e;color:#f4f4ee;text-align:left;padding-left:2px;"><span>3,3</span></div>
<div class="c L" style="left:108.6px;top:362.92px;width:38.10px;height:13.48px;background:#274e13;color:#f4f4ee;text-align:left;padding-left:2px;"><span>7,15</span></div>
<div class="c L" style="left:146.7px;top:362.92px;width:37.90px;height:13.48px;background:#d9ead3;color:#1a1a1a;text-align:left;padding-left:2px;"><span>536,35</span></div>
<div class="c" style="left:184.6px;top:362.92px;width:38.00px;height:13.48px;background:#c9daf8;color:#1a1a1a;text-align:center;"><span>0,5</span></div>
<div class="c" style="left:222.6px;top:362.92px;width:38.10px;height:13.48px;background:#073763;color:#f4f4ee;text-align:center;"><span>92</span></div>
<div class="c" style="left:260.7px;top:362.92px;width:38.30px;height:13.48px;background:#6fa8dc;color:#1a1a1a;text-align:center;"><span>66</span></div>
<div class="c" style="left:299px;top:362.92px;width:59.20px;height:13.48px;background:#d9d9d9;color:#1a1a1a;text-align:center;"><span>1014,1</span></div>
<div class="c" style="left:358.2px;top:362.92px;width:59.10px;height:13.48px;background:#f4cccc;color:#1a1a1a;text-align:center;"><span>1006,9</span></div>
<div class="c" style="left:417.3px;top:362.92px;width:39.20px;height:13.48px;background:#ffff00;color:#1a1a1a;text-align:center;"><span>08:30</span></div>
<div class="c" style="left:456.5px;top:362.92px;width:47.20px;height:13.48px;background:#f1c232;color:#1a1a1a;text-align:center;"><span>752,6</span></div>
<div class="c" style="left:503.7px;top:362.92px;width:19.80px;height:13.48px;background:#e74c3c;color:#1a1a1a;text-align:center;font-weight:bold;line-height:12.2px;"><span>7</span></div>
<div class="c R" style="left:5px;top:376.10px;width:27.00px;height:13.48px;background:#ffffff;color:#222;text-align:right;padding-right:2.5px;"><span>26.4.</span></div>
<div class="c L" style="left:32px;top:376.10px;width:38.50px;height:13.48px;background:#6aa84f;color:#1a1a1a;text-align:left;padding-left:3.5px;"><span>10,1</span></div>
<div class="c L" style="left:70.5px;top:376.10px;width:38.10px;height:13.48px;background:#a2c4c9;color:#1a1a1a;text-align:left;padding-left:2px;"><span>0,4</span></div>
<div class="c L" style="left:108.6px;top:376.10px;width:38.10px;height:13.48px;background:#1a4a3c;color:#f4f4ee;text-align:left;padding-left:2px;"><span>5,25</span></div>
<div class="c L" style="left:146.7px;top:376.10px;width:37.90px;height:13.48px;background:#d9ead3;color:#1a1a1a;text-align:left;padding-left:2px;"><span>541,6</span></div>
<div class="c" style="left:184.6px;top:376.10px;width:38.00px;height:13.48px;background:#ffffff;color:#1a1a1a;text-align:center;"><span>&lt;0,1</span></div>
<div class="c" style="left:222.6px;top:376.10px;width:38.10px;height:13.48px;background:#073763;color:#f4f4ee;text-align:center;"><span>96</span></div>
<div class="c" style="left:260.7px;top:376.10px;width:38.30px;height:13.48px;background:#cfe2f3;color:#1a1a1a;text-align:center;"><span>49</span></div>
<div class="c" style="left:299px;top:376.10px;width:59.20px;height:13.48px;background:#d9ead3;color:#1a1a1a;text-align:center;"><span>1018,0</span></div>
<div class="c" style="left:358.2px;top:376.10px;width:59.10px;height:13.48px;background:#d9d9d9;color:#1a1a1a;text-align:center;"><span>1013,7</span></div>
<div class="c" style="left:417.3px;top:376.10px;width:39.20px;height:13.48px;background:#ffff00;color:#1a1a1a;text-align:center;"><span>09:00</span></div>
<div class="c" style="left:456.5px;top:376.10px;width:47.20px;height:13.48px;background:#dd7e6b;color:#1a1a1a;text-align:center;"><span>930,5</span></div>
<div class="c" style="left:503.7px;top:376.10px;width:19.80px;height:13.48px;background:#ff00ff;color:#f4f4ee;text-align:center;font-weight:bold;line-height:12.2px;"><span>9</span></div>
<div class="c R" style="left:5px;top:389.28px;width:27.00px;height:13.48px;background:#ffffff;color:#222;text-align:right;padding-right:2.5px;"><span>27.4.</span></div>
<div class="c L" style="left:32px;top:389.28px;width:38.50px;height:13.48px;background:#a2e23a;color:#1a1a1a;text-align:left;padding-left:3.5px;"><span>13,3</span></div>
<div class="c L" style="left:70.5px;top:389.28px;width:38.10px;height:13.48px;background:#c9daf8;color:#1a1a1a;text-align:left;padding-left:2px;"><span>-1,2</span></div>
<div class="c L" style="left:108.6px;top:389.28px;width:38.10px;height:13.48px;background:#274e13;color:#f4f4ee;text-align:left;padding-left:2px;"><span>6,05</span></div>
<div class="c L" style="left:146.7px;top:389.28px;width:37.90px;height:13.48px;background:#d9ead3;color:#1a1a1a;text-align:left;padding-left:2px;"><span>547,65</span></div>
<div class="c" style="left:184.6px;top:389.28px;width:38.00px;height:13.48px;background:#ffffff;color:#1a1a1a;text-align:center;"><span>0,0</span></div>
<div class="c" style="left:222.6px;top:389.28px;width:38.10px;height:13.48px;background:#073763;color:#f4f4ee;text-align:center;"><span>95</span></div>
<div class="c" style="left:260.7px;top:389.28px;width:38.30px;height:13.48px;background:#cfe2f3;color:#1a1a1a;text-align:center;"><span>41</span></div>
<div class="c" style="left:299px;top:389.28px;width:59.20px;height:13.48px;background:#b6d7a8;color:#1a1a1a;text-align:center;"><span>1020,3</span></div>
<div class="c" style="left:358.2px;top:389.28px;width:59.10px;height:13.48px;background:#d9ead3;color:#1a1a1a;text-align:center;"><span>1017,8</span></div>
<div class="c" style="left:417.3px;top:389.28px;width:39.20px;height:13.48px;background:#ffff00;color:#1a1a1a;text-align:center;"><span>09:30</span></div>
<div class="c" style="left:456.5px;top:389.28px;width:47.20px;height:13.48px;background:#e69138;color:#1a1a1a;text-align:center;"><span>858,9</span></div>
<div class="c" style="left:503.7px;top:389.28px;width:19.80px;height:13.48px;background:#cc0000;color:#f4f4ee;text-align:center;font-weight:bold;line-height:12.2px;"><span>8</span></div>
<div class="c R" style="left:5px;top:402.46px;width:27.00px;height:13.48px;background:#ffffff;color:#222;text-align:right;padding-right:2.5px;"><span>28.4.</span></div>
<div class="c L" style="left:32px;top:402.46px;width:38.50px;height:13.48px;background:#a2e23a;color:#1a1a1a;text-align:left;padding-left:3.5px;"><span>13,9</span></div>
<div class="c L" style="left:70.5px;top:402.46px;width:38.10px;height:13.48px;background:#45818e;color:#f4f4ee;text-align:left;padding-left:2px;"><span>3,8</span></div>
<div class="c L" style="left:108.6px;top:402.46px;width:38.10px;height:13.48px;background:#38761d;color:#f4f4ee;text-align:left;padding-left:2px;"><span>8,85</span></div>
<div class="c L" style="left:146.7px;top:402.46px;width:37.90px;height:13.48px;background:#d9ead3;color:#1a1a1a;text-align:left;padding-left:2px;"><span>556,5</span></div>
<div class="c" style="left:184.6px;top:402.46px;width:38.00px;height:13.48px;background:#c9daf8;color:#1a1a1a;text-align:center;"><span>0,8</span></div>
<div class="c" style="left:222.6px;top:402.46px;width:38.10px;height:13.48px;background:#073763;color:#f4f4ee;text-align:center;"><span>98</span></div>
<div class="c" style="left:260.7px;top:402.46px;width:38.30px;height:13.48px;background:#6fa8dc;color:#1a1a1a;text-align:center;"><span>64</span></div>
<div class="c" style="left:299px;top:402.46px;width:59.20px;height:13.48px;background:#d9ead3;color:#1a1a1a;text-align:center;"><span>1018,9</span></div>
<div class="c" style="left:358.2px;top:402.46px;width:59.10px;height:13.48px;background:#f4cccc;color:#1a1a1a;text-align:center;"><span>1010,7</span></div>
<div class="c" style="left:417.3px;top:402.46px;width:39.20px;height:13.48px;background:#ffff00;color:#1a1a1a;text-align:center;"><span>11:00</span></div>
<div class="c" style="left:456.5px;top:402.46px;width:47.20px;height:13.48px;background:#fff2cc;color:#1a1a1a;text-align:center;"><span>481,0</span></div>
<div class="c" style="left:503.7px;top:402.46px;width:19.80px;height:13.48px;background:#f1c232;color:#1a1a1a;text-align:center;font-weight:bold;line-height:12.2px;"><span>4</span></div>
<div class="c R" style="left:5px;top:415.64px;width:27.00px;height:13.48px;background:#ffffff;color:#222;text-align:right;padding-right:2.5px;"><span>29.4.</span></div>
<div class="c L" style="left:32px;top:415.64px;width:38.50px;height:13.48px;background:#6aa84f;color:#1a1a1a;text-align:left;padding-left:3.5px;"><span>12,6</span></div>
<div class="c L" style="left:70.5px;top:415.64px;width:38.10px;height:13.48px;background:#38761d;color:#f4f4ee;text-align:left;padding-left:2px;"><span>9,4</span></div>
<div class="c L" style="left:108.6px;top:415.64px;width:38.10px;height:13.48px;background:#6aa84f;color:#1a1a1a;text-align:left;padding-left:2px;"><span>11</span></div>
<div class="c L" style="left:146.7px;top:415.64px;width:37.90px;height:13.48px;background:#d9ead3;color:#1a1a1a;text-align:left;padding-left:2px;"><span>567,5</span></div>
<div class="c" style="left:184.6px;top:415.64px;width:38.00px;height:13.48px;background:#3c78d8;color:#f4f4ee;text-align:center;"><span>11,1</span></div>
<div class="c" style="left:222.6px;top:415.64px;width:38.10px;height:13.48px;background:#4c1130;color:#f4f4ee;text-align:center;"><span>99</span></div>
<div class="c" style="left:260.7px;top:415.64px;width:38.30px;height:13.48px;background:#0b5394;color:#f4f4ee;text-align:center;"><span>80</span></div>
<div class="c" style="left:299px;top:415.64px;width:59.20px;height:13.48px;background:#d9ead3;color:#1a1a1a;text-align:center;"><span>1019,1</span></div>
<div class="c" style="left:358.2px;top:415.64px;width:59.10px;height:13.48px;background:#f4cccc;color:#1a1a1a;text-align:center;"><span>1009,9</span></div>
<div class="c" style="left:417.3px;top:415.64px;width:39.20px;height:13.48px;background:#ffff00;color:#1a1a1a;text-align:center;"><span>09:00</span></div>
<div class="c" style="left:456.5px;top:415.64px;width:47.20px;height:13.48px;background:#fff2cc;color:#1a1a1a;text-align:center;"><span>461,6</span></div>
<div class="c" style="left:503.7px;top:415.64px;width:19.80px;height:13.48px;background:#f1c232;color:#1a1a1a;text-align:center;font-weight:bold;line-height:12.2px;"><span>4</span></div>
<div class="c R" style="left:5px;top:428.82px;width:27.00px;height:13.48px;background:#ffffff;color:#222;text-align:right;padding-right:2.5px;"><span>30.4.</span></div>
<div class="c L" style="left:32px;top:428.82px;width:38.50px;height:13.48px;background:#ffff00;color:#1a1a1a;text-align:left;padding-left:3.5px;"><span>15,8</span></div>
<div class="c L" style="left:70.5px;top:428.82px;width:38.10px;height:13.48px;background:#45818e;color:#f4f4ee;text-align:left;padding-left:2px;"><span>2,8</span></div>
<div class="c L" style="left:108.6px;top:428.82px;width:38.10px;height:13.48px;background:#38761d;color:#f4f4ee;text-align:left;padding-left:2px;"><span>9,3</span></div>
<div class="c L" style="left:146.7px;top:428.82px;width:37.90px;height:13.48px;background:#d9ead3;color:#1a1a1a;text-align:left;padding-left:2px;"><span>576,8</span></div>
<div class="c" style="left:184.6px;top:428.82px;width:38.00px;height:13.48px;background:#ffffff;color:#1a1a1a;text-align:center;"><span>0,0</span></div>
<div class="c" style="left:222.6px;top:428.82px;width:38.10px;height:13.48px;background:#073763;color:#f4f4ee;text-align:center;"><span>98</span></div>
<div class="c" style="left:260.7px;top:428.82px;width:38.30px;height:13.48px;background:#cfe2f3;color:#1a1a1a;text-align:center;"><span>40</span></div>
<div class="c" style="left:299px;top:428.82px;width:59.20px;height:13.48px;background:#b6d7a8;color:#1a1a1a;text-align:center;"><span>1023,4</span></div>
<div class="c" style="left:358.2px;top:428.82px;width:59.10px;height:13.48px;background:#d9ead3;color:#1a1a1a;text-align:center;"><span>1018,8</span></div>
<div class="c" style="left:417.3px;top:428.82px;width:39.20px;height:13.48px;background:#ffff00;color:#1a1a1a;text-align:center;"><span>08:30</span></div>
<div class="c" style="left:456.5px;top:428.82px;width:47.20px;height:13.48px;background:#dd7e6b;color:#1a1a1a;text-align:center;"><span>901,9</span></div>
<div class="c" style="left:503.7px;top:428.82px;width:19.80px;height:13.48px;background:#cc0000;color:#f4f4ee;text-align:center;font-weight:bold;line-height:12.2px;"><span>8</span></div>
<div style="position:absolute;left:5px;top:442.00px;width:519px;height:13.00px;background:#9a9a9a"></div>
<div class="l" style="left:5px;top:5px;width:519px;height:2px"></div>
<div class="l" style="left:5px;top:454px;width:519px;height:2px"></div>
<div class="l" style="left:5px;top:5px;width:2px;height:451px"></div>
<div class="l" style="left:522px;top:5px;width:2px;height:451px"></div>
<div class="l" style="left:5px;top:31px;width:519px;height:1px"></div>
<div class="l" style="left:5px;top:45px;width:519px;height:2px;background:#2a2a2a"></div>
<div class="l" style="left:5px;top:442.00px;width:519px;height:1px"></div>
<div class="l" style="left:31px;top:31px;width:1px;height:425px;background:#333"></div>
<div style="position:absolute;left:32px;top:46px;width:1px;height:396px;background:#555"></div>
<div class="l" style="left:33px;top:31px;width:1px;height:15px"></div>
<div class="l" style="left:33px;top:442px;width:1px;height:14px"></div>
<div style="position:absolute;left:32px;top:31px;width:1px;height:15px;background:#ccc"></div>
<div style="position:absolute;left:70px;top:31px;width:1px;height:425px;background:repeating-linear-gradient(#111 0 1px,transparent 1px 2px)"></div>
<div style="position:absolute;left:108px;top:31px;width:1px;height:425px;background:repeating-linear-gradient(#111 0 1px,transparent 1px 2px)"></div>
<div class="l" style="left:146px;top:31px;width:1px;height:425px"></div>
<div class="l" style="left:184px;top:31px;width:1px;height:425px"></div>
<div class="l" style="left:222px;top:31px;width:1px;height:425px"></div>
<div style="position:absolute;left:260px;top:31px;width:1px;height:425px;background:repeating-linear-gradient(#111 0 1px,transparent 1px 2px)"></div>
<div class="l" style="left:299px;top:31px;width:1px;height:425px"></div>
<div style="position:absolute;left:358px;top:31px;width:1px;height:425px;background:repeating-linear-gradient(#111 0 1px,transparent 1px 2px)"></div>
<div class="l" style="left:417px;top:31px;width:1px;height:425px"></div>
<div class="l" style="left:456px;top:31px;width:1px;height:425px"></div>
<div class="l" style="left:503px;top:31px;width:1px;height:425px"></div>
<div style="position:absolute;left:537.5px;top:45px;width:204.5px;height:397.4px;background:#fff;border:1.5px solid #111"></div>
<div class="p" style="left:541px;top:50.82px;font-size:8.2px;line-height:9.8px;color:#111">Höchstwerte<br>Monatsmittel:</div>
<div class="p" style="right:28.60px;top:53.63px;font-size:16.5px;line-height:16.5px;text-align:right;color:#ff0000">12,333 °C</div>
<div style="position:absolute;left:537.5px;top:72.80px;width:204.5px;height:1px;background:repeating-linear-gradient(90deg,#333 0 1px,transparent 1px 2px)"></div>
<div class="p" style="left:541px;top:77.20px;font-size:8.2px;line-height:9.8px;color:#111">Tiefstwerte<br>Monatsmittel:</div>
<div class="p" style="right:28.60px;top:80.01px;font-size:16.5px;line-height:16.5px;text-align:right;color:#2020f8">3,217 °C</div>
<div style="position:absolute;left:537.5px;top:99.18px;width:204.5px;height:1px;background:repeating-linear-gradient(90deg,#333 0 1px,transparent 1px 2px)"></div>
<div class="p" style="left:541px;top:103.58px;font-size:8.2px;line-height:9.8px;color:#111">Tagesdurchschnitts-<br>werte Monatsmittel:</div>
<div class="p" style="right:29.00px;top:106.39px;font-size:16.5px;line-height:16.5px;text-align:right;color:#000">7,775 °C</div>
<div class="l" style="left:537.5px;top:125.56px;width:204.5px;height:1px"></div>
<div class="p" style="left:541px;top:129.96px;font-size:8.2px;line-height:9.8px;color:#111">Grünland Temp.-<br>Summen Anstieg:</div>
<div class="p" style="right:31.00px;top:132.77px;font-size:16.5px;line-height:16.5px;text-align:right;color:#000">233,25&nbsp; K</div>
<div class="l" style="left:537.5px;top:151.94px;width:204.5px;height:1px"></div>
<div class="p" style="left:541px;top:161.37px;font-size:8.2px;line-height:9.8px;color:#111">wärmster Höchstwert:</div>
<div class="p" style="right:29.00px;top:159.15px;font-size:16.5px;line-height:16.5px;text-align:right;color:#000">23,1 °C</div>
<div style="position:absolute;left:537.5px;top:178.32px;width:204.5px;height:1px;background:repeating-linear-gradient(90deg,#333 0 1px,transparent 1px 2px)"></div>
<div class="p" style="left:541px;top:187.75px;font-size:8.2px;line-height:9.8px;color:#111">kältester Höchstwert:</div>
<div class="p" style="right:29.00px;top:185.53px;font-size:16.5px;line-height:16.5px;text-align:right;color:#000">5,4 °C</div>
<div class="l" style="left:537.5px;top:204.70px;width:204.5px;height:1px"></div>
<div class="p" style="left:541px;top:214.13px;font-size:8.2px;line-height:9.8px;color:#111">wärmster Tiefstwert:</div>
<div class="p" style="right:29.00px;top:211.91px;font-size:16.5px;line-height:16.5px;text-align:right;color:#000">11,0 °C</div>
<div style="position:absolute;left:537.5px;top:231.08px;width:204.5px;height:1px;background:repeating-linear-gradient(90deg,#333 0 1px,transparent 1px 2px)"></div>
<div class="p" style="left:541px;top:240.51px;font-size:8.2px;line-height:9.8px;color:#111">kältester Tiefstwert:</div>
<div class="p" style="right:29.00px;top:238.29px;font-size:16.5px;line-height:16.5px;text-align:right;color:#000">-3,1 °C</div>
<div class="l" style="left:537.5px;top:257.46px;width:204.5px;height:1px"></div>
<div class="p" style="left:541px;top:261.86px;font-size:8.2px;line-height:9.8px;color:#111">Niederschlag vom<br>Monat:</div>
<div class="p" style="right:18.00px;top:264.67px;font-size:16.5px;line-height:16.5px;text-align:right;color:#3c78d8">61,2 mm</div>
<div style="position:absolute;left:537.5px;top:283.84px;width:204.5px;height:1px;background:repeating-linear-gradient(90deg,#333 0 1px,transparent 1px 2px)"></div>
<div class="p" style="left:541px;top:288.24px;font-size:8.2px;line-height:9.8px;color:#111">Niederschlag vom<br>2.Quartal bis 30.4.:</div>
<div class="p" style="right:18.00px;top:291.05px;font-size:16.5px;line-height:16.5px;text-align:right;color:#3c78d8">61,2 mm</div>
<div style="position:absolute;left:537.5px;top:310.22px;width:204.5px;height:1px;background:repeating-linear-gradient(90deg,#333 0 1px,transparent 1px 2px)"></div>
<div class="p" style="left:541px;top:314.62px;font-size:8.2px;line-height:9.8px;color:#111">Niederschlag vom<br>Jahr bis 30.4.:</div>
<div class="p" style="right:18.00px;top:317.43px;font-size:16.5px;line-height:16.5px;text-align:right;color:#3c78d8">313,9 mm</div>
<div class="l" style="left:537.5px;top:336.60px;width:204.5px;height:1px"></div>
<div class="p" style="left:541px;top:341.00px;font-size:8.2px;line-height:9.8px;color:#111">Luftfeuchte-<br>monatsmittel:</div>
<div class="p" style="right:33.00px;top:343.81px;font-size:16.5px;line-height:16.5px;text-align:right;color:#0000ee">77,2 %</div>
<div class="l" style="left:537.5px;top:362.98px;width:204.5px;height:1px"></div>
<div class="p" style="left:541px;top:367.38px;font-size:8.2px;line-height:9.8px;color:#111">Luftdruck-<br>monatsmittel:</div>
<div class="p" style="right:17.00px;top:370.19px;font-size:16.5px;line-height:16.5px;text-align:right;color:#6aa84f">1015,6 hPa</div>
<div class="l" style="left:537.5px;top:389.36px;width:204.5px;height:1px"></div>
<div class="p" style="left:541px;top:393.76px;font-size:8.2px;line-height:9.8px;color:#111">Bestrahlungsstärke-<br>monatsmittel:</div>
<div class="p" style="right:13.00px;top:396.57px;font-size:16.5px;line-height:16.5px;text-align:right;color:#e69138">657,7 <span style='font-size:14px'>W/m²</span></div>
<div class="l" style="left:537.5px;top:415.74px;width:204.5px;height:1px"></div>
<div class="p" style="left:541px;top:425.17px;font-size:8.2px;line-height:9.8px;color:#111">Sonnenscheindauer:</div>
<div class="p" style="right:20.40px;top:422.95px;font-size:16.5px;line-height:16.5px;text-align:right;color:#f1c232">237:30 Std</div>
<div class="l" style="left:632px;top:45px;width:1px;height:397px"></div>
</body></html>
